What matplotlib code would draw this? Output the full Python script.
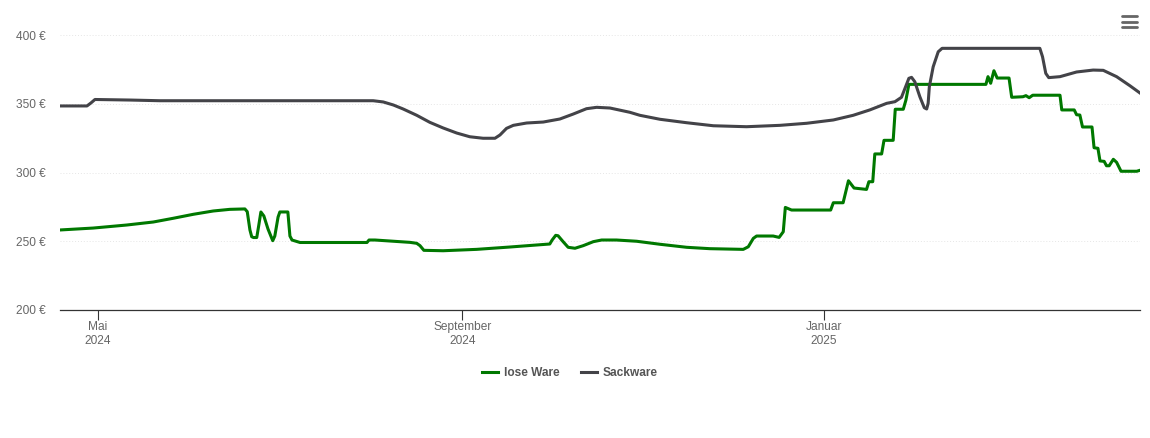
import numpy as np
import matplotlib
matplotlib.use("Agg")
import matplotlib.pyplot as plt
import matplotlib.dates as mdates
from matplotlib.lines import Line2D

plt.rcParams['font.family'] = ['Liberation Sans', 'DejaVu Sans']

START = np.datetime64("2024-05-01T00:00")

# Tage seit 1. Mai 2024
lose_tage = [-12.8, -1.6, 9.7, 18.7, 25.4, 32.2, 38.9, 44.5, 49.6, 50.4, 51.3, 51.9, 52.5, 53.6, 54.3, 55, 56, 57.4,
             59, 59.7, 60.8, 61.4, 64.1, 64.8, 65.5, 68.2, 90.8, 91.5, 93.5, 105.3, 107.6, 108.7, 110, 116.5, 127.8,
             139, 152.5, 153.3, 154.5, 155.3, 157, 158.7, 161, 163.8, 167.2, 170, 175, 181.8, 189.7, 198.7, 206.5,
             217.8, 219.5, 221.2, 222.3, 227.9, 229.9, 231.3, 232, 234.1, 247.3, 248.2, 251.5, 253.3, 255.2, 259.4,
             260.2, 261.5, 262.2, 264.5, 265.3, 268.4, 269.1, 271.8, 272.7, 273.7, 299.7, 300.4, 301.3, 302.4,
             303.5, 307.5, 308.4, 312.2, 313.2, 314.3, 315.5, 324.7, 325.3, 329.5, 330.3, 331.4, 332.3, 335.5,
             336.2, 337.5, 338.2, 339.6, 340.4, 341.3, 342.7, 343.8, 345.3, 350.6, 351.7]
lose_preis = [258.2, 259.6, 261.8, 264, 266.7, 269.6, 272, 273.2, 273.5, 271.5, 258.2, 253.3, 252.7, 252.7, 261.8,
              271.3, 268.4, 258.9, 250.4, 253.8, 267.6, 271.3, 271.3, 253.8, 250.9, 249.1, 249.1, 250.9, 250.9,
              249.2, 248.5, 246.8, 243.4, 243.1, 244.1, 245.8, 248, 250.9, 254.3, 254, 249.7, 245.6, 244.9, 246.8,
              249.7, 250.9, 250.9, 250, 247.8, 245.6, 244.6, 244.1, 246, 252.1, 253.8, 253.8, 252.8, 256.9, 274.6,
              272.7, 272.7, 278, 278, 294, 288.7, 287.7, 293.3, 293.3, 313.5, 313.5, 323.4, 323.4, 346, 346, 352.7,
              364.1, 364.1, 369.7, 364.9, 374, 368.7, 368.7, 354.7, 355.1, 355.9, 354.4, 356.2, 356.2, 345.5, 345.5,
              342, 341.8, 333.1, 333.1, 318, 317.6, 308.4, 308.1, 304.9, 304.9, 309.6, 307.4, 300.9, 300.9, 301.6]

sack_tage = [-12.8, -3.7, -2.4, -1, 10.8, 20.9, 88.4, 92.9, 96.3, 99.7, 103, 107.6, 112, 116.5, 121.1, 125.5, 130,
             134, 135.7, 137.9, 140.2, 144.7, 150.3, 155.9, 160.4, 164.9, 168.3, 172.8, 179.5, 182.9, 189.7, 198.7,
             207.7, 218.9, 230.2, 239.2, 248.2, 254.9, 260.5, 266.2, 269, 271.2, 272.6, 273.7, 274.6, 275.7, 277.4,
             278.9, 279.7, 280.2, 280.6, 281.9, 283.6, 284.9, 317.9, 318.8, 319.9, 320.9, 324.7, 330.3, 335.9,
             339.3, 343.8, 348.3, 351.7]
sack_preis = [348.4, 348.4, 350.5, 353.1, 352.7, 352.2, 352.2, 352.2, 351.3, 349.1, 346.2, 341.6, 336.5, 332.4, 328.7,
              326, 324.9, 324.9, 327.3, 332.1, 334.3, 336, 336.7, 338.9, 342.5, 346.4, 347.4, 346.9, 343.8, 341.6,
              338.7, 336.2, 334, 333.3, 334.3, 335.8, 338.2, 341.6, 345.5, 350.3, 351.5, 354.7, 362.4, 368.5, 369.2,
              366, 355.1, 347.1, 346.2, 350.3, 362.4, 376.9, 387.8, 390.3, 390.3, 384.2, 372.1, 369, 369.7, 373.1,
              374.5, 374.3, 369.7, 363.1, 357.8]

y_ticks = [200, 250, 300, 350, 400]
x_ticks = ["2024-05-01", "2024-09-01", "2025-01-01"]
x_labels = ["Mai\n2024", "September\n2024", "Januar\n2025"]


def to_dates(tage):
    minuten = np.round(np.array(tage) * 1440).astype(int)
    return START + minuten.astype("timedelta64[m]")


fig = plt.figure(figsize=(11.5, 4.38), dpi=100)
ax = fig.add_axes([60 / 1150, 1 - 310 / 438, 1080 / 1150, 275 / 438])

ax.plot(to_dates(lose_tage), lose_preis, color="#007800", lw=2.2, label="lose Ware", solid_joinstyle="round")
ax.plot(to_dates(sack_tage), sack_preis, color="#434348", lw=2.2, label="Sackware", solid_joinstyle="round")

ax.set_xlim(to_dates([-12.8])[0], to_dates([351.7])[0])
ax.set_ylim(200, 400)

ax.set_yticks(y_ticks)
ax.set_yticklabels([f"{v} €" for v in y_ticks])
ax.set_xticks([mdates.datestr2num(d) for d in x_ticks])
ax.set_xticklabels(x_labels, linespacing=1.2)
ax.tick_params(axis="y", length=0, pad=10.5, labelsize=8.6, labelcolor="#666666")
ax.tick_params(axis="x", length=7.5, width=0.8, color="#333333", pad=0.5, labelsize=8.6, labelcolor="#666666")

ax.grid(axis="y", color="#e6e6e6", lw=0.7, ls=(0, (1, 2)))
ax.set_axisbelow(True)
for s in ["top", "left", "right"]:
    ax.spines[s].set_visible(False)
ax.spines["bottom"].set_color("#333333")
ax.spines["bottom"].set_linewidth(0.9)

leg = ax.legend(loc="center", bbox_to_anchor=(570 / 1150, 1 - 373.5 / 438), bbox_transform=fig.transFigure,
                ncol=2, frameon=False, handlelength=1.35, handletextpad=0.45, columnspacing=1.85,
                prop={"size": 8.6, "weight": "bold"})
for t in leg.get_texts():
    t.set_color("#555555")

# Menue-Symbol oben rechts
for y in [16, 21.5, 26.5]:
    fig.add_artist(Line2D([1121.5 / 1150, 1136.5 / 1150], [1 - y / 438, 1 - y / 438],
                          color="#666666", lw=2.0, solid_capstyle="round"))

fig.savefig("out.png", dpi=100)
